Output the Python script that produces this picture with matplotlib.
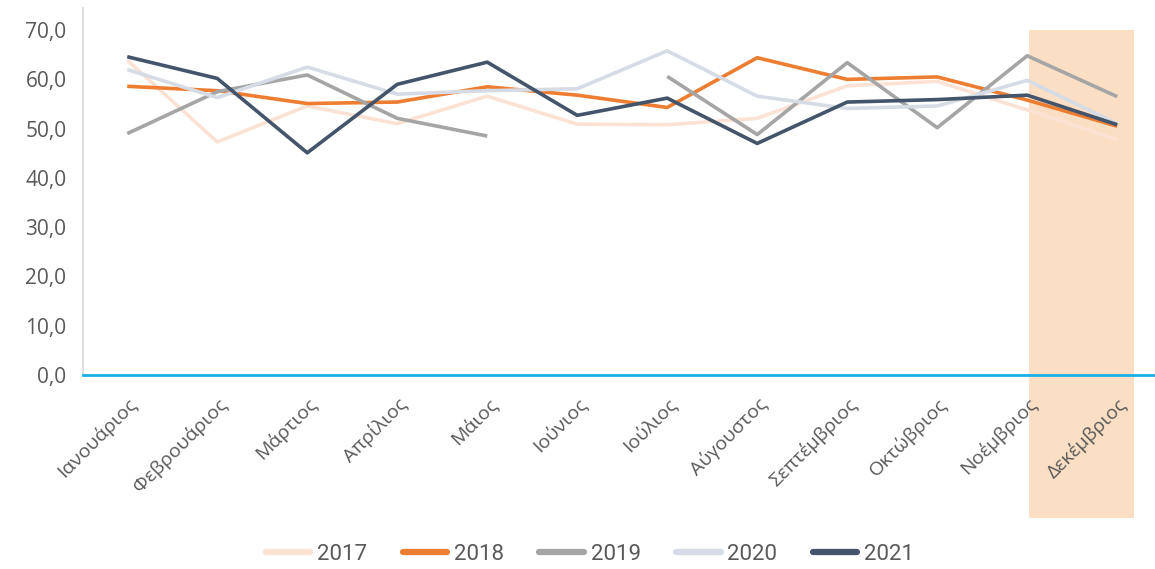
import numpy as np
import matplotlib
matplotlib.use("Agg")
import matplotlib.pyplot as plt
from matplotlib.patches import Rectangle

plt.rcParams['font.family'] = ['Open Sans', 'DejaVu Sans']

# ---- data ----
mhnes = ['Ιανουάριος', 'Φεβρουάριος', 'Μάρτιος', 'Απρίλιος', 'Μάιος', 'Ιούνιος',
         'Ιούλιος', 'Αύγουστος', 'Σεπτέμβριος', 'Οκτώβριος', 'Νοέμβριος', 'Δεκέμβριος']
y2017 = [63.9, 47.3, 54.6, 51.0, 56.6, 50.9, 50.8, 52.1, 58.7, 59.6, 53.8, 47.8]
y2018 = [58.6, 57.7, 55.1, 55.4, 58.5, 56.8, 54.3, 64.4, 60.0, 60.5, 55.8, 50.5]
y2019 = [49.0, 57.5, 60.9, 52.1, 48.5, np.nan, 60.6, 48.8, 63.4, 50.2, 64.8, 56.5]
y2020 = [62.0, 56.3, 62.5, 57.0, 57.7, 58.1, 65.8, 56.6, 54.1, 54.6, 59.8, 51.0]
y2021 = [64.6, 60.2, 45.1, 59.0, 63.5, 52.7, 56.2, 47.0, 55.4, 55.9, 56.8, 50.8]
etiketes = ['2017', '2018', '2019', '2020', '2021']
yticks = [0, 10, 20, 30, 40, 50, 60, 70]

xronia = [y2017, y2018, y2019, y2020, y2021]
xromata = ['#FBE2D4', '#ED7D31', '#A5A5A5', '#D6DCE5', '#44546A']

fig = plt.figure(figsize=(11.55, 5.69), dpi=100)
ax = fig.add_axes([0.072, 0.341, 0.928, 0.645])

x = np.arange(len(mhnes))

# highlight December (goes below the axis into the labels)
rect = Rectangle((10.02, -29.0), 1.17, 99.0, facecolor='#FBDFC5', edgecolor='none',
                 clip_on=False, zorder=0)
ax.add_patch(rect)

for vals, c, lab in zip(xronia, xromata, etiketes):
    ax.plot(x, vals, color=c, lw=2.6, label=lab, solid_capstyle='butt')

ax.set_xlim(-0.49, 11.42)
ax.set_ylim(0, 74.5)
ax.set_yticks(yticks)
ax.set_yticklabels([f'{v:.1f}'.replace('.', ',') for v in yticks])
ax.set_xticks(x)
ax.set_xticklabels(mhnes, rotation=45, ha='right', va='top', rotation_mode='anchor')

ax.tick_params(axis='both', length=0, colors='#595959')
ax.tick_params(axis='y', labelsize=15, pad=12)
ax.tick_params(axis='x', labelsize=14, pad=14)

for s in ['top', 'right']:
    ax.spines[s].set_visible(False)
ax.spines['left'].set_color('#D9D9D9')
ax.spines['left'].set_linewidth(1.2)
ax.spines['bottom'].set_color('#1AB0E8')
ax.spines['bottom'].set_linewidth(2)
ax.set_facecolor('none')

leg = fig.legend(loc='center', bbox_to_anchor=(590 / 1155, 15 / 569), ncol=5, frameon=False,
                 prop={'size': 16, 'family': ['Roboto', 'DejaVu Sans']},
                 handlelength=2.0, handletextpad=0.3, columnspacing=1.6,
                 labelcolor='#595959')
for h in leg.get_lines():
    h.set_linewidth(4.5)
    h.set_solid_capstyle('round')

fig.savefig('out.png', dpi=100)
